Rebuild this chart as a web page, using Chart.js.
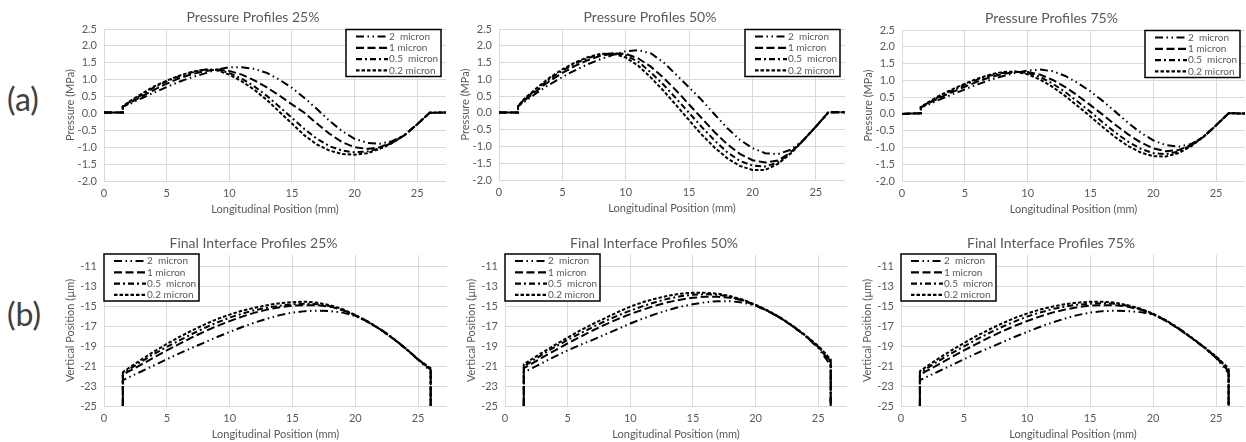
<!DOCTYPE html>
<html>
<head>
<meta charset="utf-8">
<script src="https://cdn.jsdelivr.net/npm/chart.js@4.4.0/dist/chart.umd.min.js"></script>
<style>
  html, body { margin: 0; padding: 0; background: #fff; overflow: hidden; }
  body { width: 1246px; height: 442px; position: relative; font-family: Lato, sans-serif; }
  .panel { position: absolute; }
  .tag { position: absolute; font-size: 32px; line-height: 32px; color: #404040; }
</style>
</head>
<body>
<div class="tag" style="left:7px;top:83px">(a)</div>
<div class="tag" style="left:7px;top:298px">(b)</div>
<div class="panel" id="box1"><canvas id="c1"></canvas></div>
<div class="panel" id="box2"><canvas id="c2"></canvas></div>
<div class="panel" id="box3"><canvas id="c3"></canvas></div>
<div class="panel" id="box4"><canvas id="c4"></canvas></div>
<div class="panel" id="box5"><canvas id="c5"></canvas></div>
<div class="panel" id="box6"><canvas id="c6"></canvas></div>
<script>
// ---- data ----
const seriesLabels = ['2  micron', '1 micron', '0.5  micron', '0.2 micron'];

const xTicks = [0, 5, 10, 15, 20, 25];
const pressureTicks = [-2.0, -1.5, -1.0, -0.5, 0.0, 0.5, 1.0, 1.5, 2.0, 2.5];
const interfaceTicks = [-25, -23, -21, -19, -17, -15, -13, -11];

// longitudinal positions (mm)
const posP = [0, 1.5, 1.5, 2, 3, 4, 5, 6, 7, 8, 9, 10, 11, 12, 13, 14, 15, 16, 17, 18, 19, 20, 21, 22, 23, 24, 25, 26, 27.3];
const posI = [1.5, 1.5, 2, 3, 4, 5, 6, 7, 8, 9, 10, 11, 12, 13, 14, 15, 16, 17, 18, 19, 20, 21, 22, 23, 24, 25, 26, 26];

// pressure (MPa), 25%
const p25_2um  = [0.03, 0.03, 0.2, 0.27, 0.45, 0.62, 0.78, 0.94, 1.07, 1.18, 1.3, 1.37, 1.37, 1.32, 1.2, 1.0, 0.76, 0.46, 0.13, -0.22, -0.52, -0.75, -0.87, -0.9, -0.82, -0.64, -0.32, 0.02, 0.03];
const p25_1um  = [0.03, 0.03, 0.2, 0.3, 0.5, 0.7, 0.88, 1.04, 1.16, 1.25, 1.3, 1.26, 1.15, 0.98, 0.77, 0.53, 0.27, 0.02, -0.3, -0.6, -0.85, -1.0, -1.05, -1.0, -0.85, -0.64, -0.32, 0.02, 0.03];
const p25_05um = [0.03, 0.03, 0.2, 0.33, 0.55, 0.77, 0.95, 1.1, 1.21, 1.29, 1.3, 1.2, 1.03, 0.8, 0.52, 0.2, -0.13, -0.46, -0.75, -0.97, -1.1, -1.15, -1.13, -1.03, -0.87, -0.64, -0.32, 0.02, 0.03];
const p25_02um = [0.03, 0.03, 0.2, 0.35, 0.58, 0.8, 0.97, 1.12, 1.23, 1.3, 1.28, 1.15, 0.95, 0.7, 0.4, 0.05, -0.3, -0.65, -0.92, -1.1, -1.2, -1.22, -1.18, -1.05, -0.88, -0.64, -0.32, 0.02, 0.03];

// pressure (MPa), 50%
const p50_2um  = [0.01, 0.01, 0.2, 0.33, 0.6, 0.85, 1.07, 1.27, 1.45, 1.6, 1.73, 1.84, 1.87, 1.77, 1.5, 1.13, 0.76, 0.38, -0.04, -0.45, -0.8, -1.05, -1.2, -1.23, -1.1, -0.82, -0.41, 0.02, 0.02];
const p50_1um  = [0.01, 0.01, 0.2, 0.37, 0.67, 0.95, 1.19, 1.4, 1.57, 1.7, 1.77, 1.76, 1.62, 1.37, 1.04, 0.66, 0.25, -0.16, -0.57, -0.93, -1.22, -1.41, -1.48, -1.42, -1.18, -0.82, -0.41, 0.02, 0.02];
const p50_05um = [0.01, 0.01, 0.2, 0.4, 0.72, 1.01, 1.26, 1.47, 1.63, 1.74, 1.78, 1.72, 1.52, 1.2, 0.83, 0.42, 0.0, -0.42, -0.82, -1.17, -1.43, -1.57, -1.6, -1.48, -1.2, -0.82, -0.41, 0.02, 0.02];
const p50_02um = [0.01, 0.01, 0.2, 0.42, 0.75, 1.05, 1.3, 1.5, 1.66, 1.76, 1.77, 1.65, 1.4, 1.05, 0.65, 0.22, -0.22, -0.65, -1.03, -1.35, -1.58, -1.7, -1.7, -1.52, -1.22, -0.82, -0.41, 0.02, 0.02];

// pressure (MPa), 75%
const p75_2um  = [0.0, 0.02, 0.2, 0.26, 0.43, 0.58, 0.73, 0.88, 1.01, 1.12, 1.22, 1.29, 1.32, 1.27, 1.13, 0.92, 0.67, 0.38, 0.06, -0.27, -0.56, -0.79, -0.93, -0.98, -0.9, -0.69, -0.34, 0.02, 0.01];
const p75_1um  = [0.0, 0.02, 0.2, 0.29, 0.48, 0.65, 0.81, 0.96, 1.09, 1.19, 1.25, 1.25, 1.17, 1.01, 0.8, 0.54, 0.26, -0.03, -0.33, -0.61, -0.85, -1.03, -1.11, -1.08, -0.93, -0.68, -0.34, 0.02, 0.01];
const p75_05um = [0.0, 0.02, 0.2, 0.31, 0.52, 0.7, 0.87, 1.02, 1.14, 1.22, 1.26, 1.22, 1.1, 0.9, 0.65, 0.36, 0.06, -0.26, -0.56, -0.83, -1.04, -1.17, -1.2, -1.12, -0.94, -0.68, -0.34, 0.02, 0.01];
const p75_02um = [0.0, 0.02, 0.2, 0.33, 0.55, 0.73, 0.9, 1.05, 1.17, 1.25, 1.26, 1.18, 1.02, 0.8, 0.53, 0.23, -0.08, -0.4, -0.7, -0.96, -1.15, -1.26, -1.27, -1.17, -0.97, -0.68, -0.34, 0.02, 0.01];

// interface vertical position (µm), 25%
const i25_2um  = [-25, -22.4, -22.1, -21.5, -20.9, -20.3, -19.7, -19.15, -18.6, -18.05, -17.55, -17.05, -16.6, -16.2, -15.85, -15.6, -15.45, -15.4, -15.45, -15.6, -15.95, -16.5, -17.25, -18.15, -19.2, -20.35, -21.5, -25];
const i25_1um  = [-25, -21.85, -21.5, -20.8, -20.1, -19.4, -18.75, -18.1, -17.5, -16.95, -16.45, -16.0, -15.6, -15.3, -15.05, -14.9, -14.85, -14.85, -15.0, -15.35, -15.85, -16.5, -17.3, -18.2, -19.2, -20.3, -21.35, -25];
const i25_05um = [-25, -21.7, -21.3, -20.5, -19.75, -19.05, -18.4, -17.75, -17.15, -16.6, -16.1, -15.7, -15.35, -15.1, -14.9, -14.75, -14.7, -14.75, -14.95, -15.35, -15.9, -16.55, -17.3, -18.2, -19.2, -20.3, -21.3, -25];
const i25_02um = [-25, -21.6, -21.15, -20.3, -19.5, -18.75, -18.05, -17.4, -16.8, -16.25, -15.8, -15.4, -15.1, -14.85, -14.65, -14.55, -14.5, -14.6, -14.85, -15.25, -15.85, -16.5, -17.3, -18.2, -19.2, -20.3, -21.2, -25];

// interface vertical position (µm), 50%
const i50_2um  = [-25, -21.6, -21.3, -20.65, -20.0, -19.4, -18.85, -18.35, -17.8, -17.25, -16.7, -16.2, -15.75, -15.35, -15.0, -14.75, -14.55, -14.45, -14.45, -14.6, -14.9, -15.45, -16.15, -17.0, -18.0, -19.15, -20.9, -25];
const i50_1um  = [-25, -21.2, -20.85, -20.1, -19.4, -18.7, -18.05, -17.4, -16.8, -16.25, -15.75, -15.3, -14.9, -14.55, -14.3, -14.1, -14.0, -14.0, -14.1, -14.4, -14.85, -15.45, -16.15, -17.0, -17.95, -19.05, -20.6, -25];
const i50_05um = [-25, -21.0, -20.6, -19.8, -19.05, -18.35, -17.7, -17.05, -16.45, -15.9, -15.4, -14.95, -14.55, -14.2, -13.95, -13.8, -13.75, -13.8, -14.0, -14.35, -14.85, -15.45, -16.15, -17.0, -17.95, -19.0, -20.5, -25];
const i50_02um = [-25, -20.8, -20.4, -19.6, -18.85, -18.1, -17.4, -16.75, -16.15, -15.55, -15.0, -14.55, -14.2, -13.9, -13.7, -13.6, -13.6, -13.7, -13.95, -14.3, -14.8, -15.4, -16.1, -16.95, -17.9, -18.95, -20.3, -25];

// interface vertical position (µm), 75%
const i75_2um  = [-25, -22.4, -22.1, -21.5, -20.9, -20.3, -19.7, -19.15, -18.6, -18.05, -17.55, -17.05, -16.6, -16.2, -15.85, -15.6, -15.45, -15.4, -15.45, -15.55, -15.8, -16.35, -17.15, -18.05, -19.05, -20.15, -21.7, -25];
const i75_1um  = [-25, -21.85, -21.5, -20.8, -20.1, -19.4, -18.75, -18.1, -17.5, -16.95, -16.45, -16.0, -15.6, -15.3, -15.05, -14.9, -14.85, -14.85, -15.0, -15.3, -15.75, -16.4, -17.2, -18.1, -19.05, -20.1, -21.5, -25];
const i75_05um = [-25, -21.65, -21.25, -20.45, -19.7, -19.0, -18.3, -17.65, -17.05, -16.5, -16.0, -15.6, -15.25, -15.0, -14.8, -14.7, -14.65, -14.7, -14.9, -15.25, -15.75, -16.4, -17.2, -18.1, -19.05, -20.05, -21.35, -25];
const i75_02um = [-25, -21.5, -21.05, -20.2, -19.4, -18.65, -17.95, -17.3, -16.7, -16.15, -15.7, -15.3, -15.0, -14.75, -14.6, -14.5, -14.5, -14.6, -14.85, -15.2, -15.7, -16.35, -17.15, -18.05, -19.0, -20.0, -21.2, -25];

// ---- styles ----
const FONT = 'Lato, "Open Sans", sans-serif';
const GREY = '#595959';
const dashes = [[8, 3.5, 1.5, 3.5, 1.5, 3.5], [8, 3.5], [6, 3, 2, 3], [3.5, 2]];
const Y_W = 44, X_H = 36, TITLE_H = 20;

// legend drawn as a boxed key inside the plot area
const boxLegend = {
  id: 'boxLegend',
  afterDraw(chart, args, opts) {
    const { ctx, chartArea } = chart;
    const w = 95, h = 47;
    const x = opts.side === 'right' ? chartArea.right - w - 5 : chartArea.left;
    const y = opts.side === 'right' ? chartArea.top + 0.5 : chartArea.top - 1;
    ctx.save();
    ctx.fillStyle = '#fff';
    ctx.fillRect(x, y, w, h);
    ctx.lineWidth = 1.5;
    ctx.strokeStyle = '#000';
    ctx.strokeRect(x, y, w, h);
    chart.data.datasets.forEach((ds, i) => {
      const ly = y + 7 + i * 11.3;
      ctx.setLineDash(ds.borderDash);
      ctx.lineWidth = 2.2;
      ctx.beginPath();
      ctx.moveTo(x + 10, ly);
      ctx.lineTo(x + 42, ly);
      ctx.stroke();
      ctx.setLineDash([]);
      ctx.fillStyle = GREY;
      ctx.font = '10px ' + FONT;
      ctx.textBaseline = 'middle';
      ctx.fillText(ds.label, x + 43, ly);
    });
    ctx.restore();
  }
};

function makePanel(n, area, title, xs, series, yTicks, yMin, yMax, yTitle, side, decimals) {
  const box = document.getElementById('box' + n);
  box.style.left = (area.left - Y_W) + 'px';
  box.style.top = (area.top - TITLE_H) + 'px';
  box.style.width = (area.right - area.left + Y_W + 1) + 'px';
  box.style.height = (area.bottom - area.top + TITLE_H + X_H) + 'px';

  new Chart(document.getElementById('c' + n), {
    type: 'line',
    data: {
      datasets: series.map((vals, i) => ({
        label: seriesLabels[i],
        data: xs.map((x, j) => ({ x: x, y: vals[j] })),
        borderColor: '#000',
        borderWidth: 2,
        borderDash: dashes[i],
        pointRadius: 0,
        tension: 0,
        fill: false
      }))
    },
    options: {
      responsive: true,
      maintainAspectRatio: false,
      animation: false,
      layout: { padding: { left: 0, right: 1, top: 0, bottom: 0 } },
      plugins: {
        legend: { display: false },
        tooltip: { enabled: false },
        title: {
          display: true,
          text: title,
          color: GREY,
          font: { family: FONT, size: 14, weight: 'normal', lineHeight: '17px' },
          padding: { top: 0, bottom: 3 }
        },
        boxLegend: { side: side }
      },
      scales: {
        x: {
          type: 'linear',
          min: 0,
          max: 27.3,
          afterBuildTicks: s => { s.ticks = xTicks.map(v => ({ value: v })); },
          afterFit: s => { s.height = X_H; },
          grid: { color: '#d9d9d9', drawTicks: false },
          border: { display: false },
          ticks: { color: GREY, font: { family: FONT, size: 11 }, padding: 6 },
          title: {
            display: true,
            text: 'Longitudinal Position (mm)',
            color: GREY,
            font: { family: FONT, size: 11, lineHeight: 1.2 },
            padding: { top: 0, bottom: 1.4 }
          }
        },
        y: {
          min: yMin,
          max: yMax,
          afterBuildTicks: s => { s.ticks = yTicks.map(v => ({ value: v })); },
          afterFit: s => { s.width = Y_W; },
          grid: { color: '#d9d9d9', drawTicks: false },
          border: { display: false },
          ticks: {
            color: GREY,
            font: { family: FONT, size: 11 },
            padding: 7,
            callback: v => v.toFixed(decimals)
          },
          title: {
            display: true,
            text: yTitle,
            color: GREY,
            font: { family: FONT, size: 11, lineHeight: 1.2 },
            padding: { top: 3.4, bottom: 0 }
          }
        }
      }
    },
    plugins: [boxLegend]
  });
}

makePanel(1, { left: 104, right: 446, top: 29, bottom: 181 }, 'Pressure Profiles 25%', posP,
  [p25_2um, p25_1um, p25_05um, p25_02um], pressureTicks, -2.0, 2.5, 'Pressure (MPa)', 'right', 1);
makePanel(2, { left: 499, right: 845, top: 29, bottom: 180 }, 'Pressure Profiles 50%', posP,
  [p50_2um, p50_1um, p50_05um, p50_02um], pressureTicks, -2.0, 2.5, 'Pressure (MPa)', 'right', 1);
makePanel(3, { left: 902, right: 1245, top: 30, bottom: 181 }, 'Pressure Profiles 75%', posP,
  [p75_2um, p75_1um, p75_05um, p75_02um], pressureTicks, -2.0, 2.5, 'Pressure (MPa)', 'right', 1);
makePanel(4, { left: 104, right: 447, top: 255, bottom: 406 }, 'Final Interface Profiles 25%', posI,
  [i25_2um, i25_1um, i25_05um, i25_02um], interfaceTicks, -25, -9.8, 'Vertical Position (µm)', 'left', 0);
makePanel(5, { left: 505, right: 847, top: 255, bottom: 406 }, 'Final Interface Profiles 50%', posI,
  [i50_2um, i50_1um, i50_05um, i50_02um], interfaceTicks, -25, -9.8, 'Vertical Position (µm)', 'left', 0);
makePanel(6, { left: 901, right: 1245, top: 255, bottom: 406 }, 'Final Interface Profiles 75%', posI,
  [i75_2um, i75_1um, i75_05um, i75_02um], interfaceTicks, -25, -9.8, 'Vertical Position (µm)', 'left', 0);
</script>
</body>
</html>
